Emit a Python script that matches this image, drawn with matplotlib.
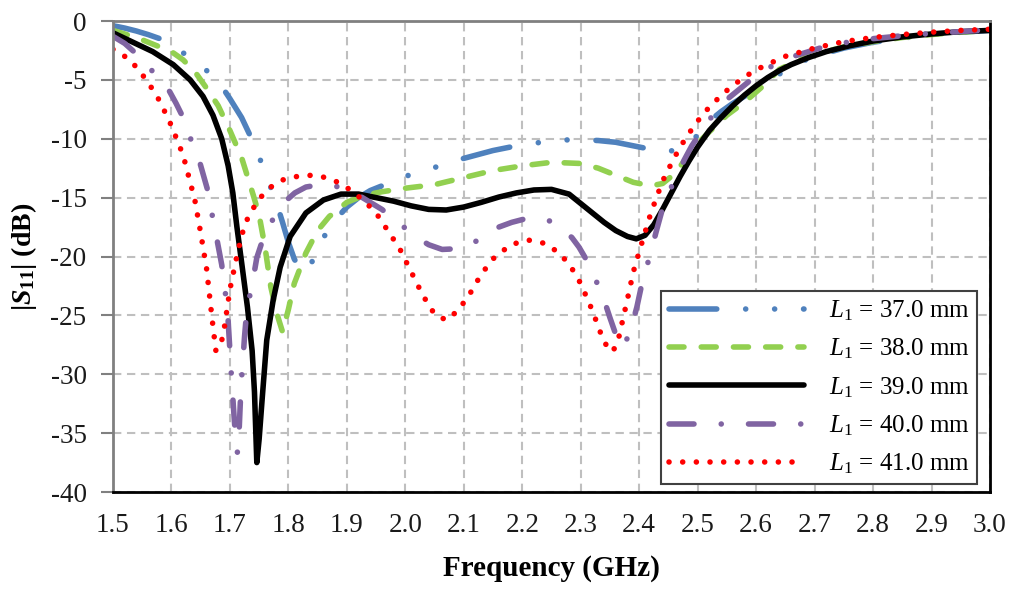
import numpy as np
import matplotlib
matplotlib.use("Agg")
import matplotlib.pyplot as plt

plt.rcParams['font.family'] = ['Liberation Serif', 'DejaVu Serif']
plt.rcParams['mathtext.fontset'] = 'custom'
plt.rcParams['mathtext.rm'] = 'Liberation Serif'
plt.rcParams['mathtext.it'] = 'Liberation Serif:italic'
plt.rcParams['mathtext.bf'] = 'Liberation Serif:bold'
plt.rcParams['mathtext.bfit'] = 'Liberation Serif:bold:italic'
plt.rcParams['axes.unicode_minus'] = False

# L1 = 37.0 mm
f37 = [1.50, 1.52, 1.54, 1.56, 1.58, 1.60, 1.62, 1.64, 1.66, 1.68, 1.70, 1.72, 1.74, 1.76, 1.78,
       1.79, 1.80, 1.81, 1.82, 1.83, 1.84, 1.85, 1.86, 1.87, 1.88, 1.90, 1.92, 1.94, 1.96, 1.98,
       2.00, 2.03, 2.06, 2.09, 2.12, 2.15, 2.18, 2.21, 2.24, 2.27, 2.30, 2.33, 2.36, 2.39, 2.42,
       2.44, 2.46, 2.48, 2.50, 2.52, 2.54, 2.56, 2.58, 2.60, 2.62, 2.64, 2.66, 2.68, 2.70, 2.75,
       2.80, 2.85, 2.90, 2.95, 3.00]
s37 = [-0.4, -0.6, -0.85, -1.15, -1.5, -2.0, -2.7, -3.5, -4.2, -5.1, -6.6, -8.2, -10.3, -12.8, -15.5,
       -17.1, -18.8, -20.2, -21.1, -21.3, -20.5, -19.3, -18.4, -17.6, -16.9, -15.8, -15.0, -14.4, -14.0, -13.6,
       -13.2, -12.7, -12.3, -11.8, -11.4, -11.0, -10.7, -10.45, -10.25, -10.1, -10.1, -10.15, -10.3, -10.6, -10.9,
       -11.1, -11.0, -10.6, -9.7, -8.5, -7.7, -7.0, -6.4, -5.8, -5.1, -4.5, -3.9, -3.4, -3.0, -2.3,
       -1.8, -1.45, -1.15, -0.95, -0.8]

# L1 = 38.0 mm
f38 = [1.50, 1.52, 1.55, 1.57, 1.60, 1.62, 1.64, 1.66, 1.68, 1.70, 1.72, 1.74, 1.75, 1.76, 1.77,
       1.78, 1.79, 1.80, 1.81, 1.83, 1.85, 1.87, 1.90, 1.93, 1.96, 2.00, 2.05, 2.10, 2.15, 2.20,
       2.25, 2.30, 2.33, 2.36, 2.39, 2.42, 2.44, 2.46, 2.48, 2.50, 2.52, 2.55, 2.58, 2.61, 2.64,
       2.67, 2.70, 2.75, 2.80, 2.85, 2.90, 2.95, 3.00]
s38 = [-0.8, -1.1, -1.6, -2.0, -2.6, -3.3, -4.3, -5.7, -7.2, -9.3, -11.6, -14.8, -16.5, -19.2, -22.6,
       -24.8, -26.4, -24.5, -22.3, -19.7, -17.8, -16.6, -15.4, -14.8, -14.5, -14.2, -13.9, -13.3, -12.7, -12.3,
       -12.0, -12.1, -12.5, -13.1, -13.7, -14.0, -13.8, -13.0, -11.7, -10.4, -9.4, -8.0, -6.9, -5.6, -4.1,
       -3.4, -2.85, -2.2, -1.75, -1.4, -1.15, -0.95, -0.8]

# L1 = 39.0 mm
f39 = [1.50, 1.534, 1.568, 1.603, 1.632, 1.654, 1.671, 1.686, 1.697, 1.705, 1.712, 1.72, 1.73, 1.738, 1.742,
       1.746, 1.750, 1.755, 1.763, 1.774, 1.786, 1.803, 1.83, 1.86, 1.89, 1.92, 1.95, 1.98, 2.01, 2.04,
       2.07, 2.10, 2.13, 2.16, 2.19, 2.22, 2.25, 2.28, 2.30, 2.32, 2.34, 2.36, 2.38, 2.395, 2.41,
       2.425, 2.44, 2.455, 2.47, 2.485, 2.50, 2.52, 2.54, 2.56, 2.58, 2.60, 2.62, 2.64, 2.66, 2.69,
       2.72, 2.76, 2.80, 2.85, 2.90, 2.95, 3.00]
s39 = [-1.0, -1.8, -2.6, -3.7, -5.0, -6.4, -8.0, -10.0, -12.3, -14.6, -17.5, -20.5, -24.3, -28.0, -31.5,
       -37.5, -35.5, -32.2, -27.1, -23.7, -20.9, -18.3, -16.3, -15.2, -14.7, -14.7, -15.0, -15.3, -15.7, -16.0,
       -16.05, -15.8, -15.4, -14.95, -14.6, -14.35, -14.3, -14.7, -15.5, -16.3, -17.1, -17.8, -18.3, -18.5, -18.2,
       -17.3, -16.0, -14.6, -13.2, -11.9, -10.7, -9.3, -8.2, -7.2, -6.3, -5.5, -4.8, -4.2, -3.7, -3.1,
       -2.6, -2.1, -1.7, -1.35, -1.1, -0.9, -0.8]

# L1 = 40.0 mm
f40 = [1.50, 1.52, 1.538, 1.555, 1.568, 1.583, 1.597, 1.608, 1.618, 1.632, 1.641, 1.649, 1.661, 1.669, 1.678,
       1.686, 1.692, 1.697, 1.700, 1.703, 1.707, 1.710, 1.713, 1.716, 1.719, 1.722, 1.725, 1.729, 1.738, 1.746,
       1.76, 1.78, 1.795, 1.811, 1.83, 1.854, 1.875, 1.90, 1.92, 1.94, 1.96, 1.98, 2.00, 2.02, 2.04,
       2.063, 2.085, 2.105, 2.125, 2.141, 2.16, 2.182, 2.205, 2.227, 2.248, 2.268, 2.285, 2.297, 2.31, 2.319,
       2.336, 2.35, 2.364, 2.372, 2.384, 2.396, 2.406, 2.418, 2.429, 2.444, 2.458, 2.477, 2.49, 2.506, 2.523,
       2.554, 2.596, 2.62, 2.664, 2.722, 2.78, 2.85, 2.90, 2.95, 3.00]
s40 = [-1.3, -1.9, -2.7, -3.5, -4.3, -5.1, -6.0, -7.0, -8.0, -9.9, -11.0, -12.1, -14.2, -16.3, -18.6,
       -20.7, -23.0, -25.5, -28.0, -30.5, -33.5, -35.6, -36.7, -34.5, -31.0, -29.0, -26.8, -24.5, -22.4, -20.1,
       -18.0, -16.3, -15.3, -14.6, -14.1, -13.9, -13.95, -14.3, -14.8, -15.4, -16.0, -16.8, -17.6, -18.4, -19.0,
       -19.4, -19.35, -19.1, -18.6, -18.0, -17.5, -17.1, -16.8, -16.7, -17.0, -17.6, -18.4, -19.2, -20.3, -21.3,
       -23.1, -25.2, -27.2, -27.7, -26.5, -24.3, -22.0, -20.0, -17.9, -15.2, -13.8, -11.8, -10.6, -9.4, -8.2,
       -6.5, -4.8, -4.0, -3.0, -2.1, -1.6, -1.25, -1.05, -0.9, -0.75]

# L1 = 41.0 mm
f41 = [1.50, 1.52, 1.54, 1.56, 1.58, 1.60, 1.62, 1.64, 1.65, 1.66, 1.67, 1.676, 1.684, 1.69, 1.70,
       1.71, 1.72, 1.73, 1.74, 1.75, 1.77, 1.79, 1.815, 1.84, 1.865, 1.89, 1.91, 1.93, 1.95, 1.97,
       1.99, 2.01, 2.03, 2.05, 2.07, 2.09, 2.11, 2.13, 2.15, 2.18, 2.21, 2.24, 2.26, 2.28, 2.30,
       2.32, 2.34, 2.355, 2.365, 2.38, 2.39, 2.40, 2.42, 2.44, 2.46, 2.48, 2.50, 2.52, 2.545, 2.565,
       2.585, 2.61, 2.65, 2.70, 2.75, 2.80, 2.85, 2.90, 2.95, 3.00]
s41 = [-2.4, -3.0, -3.9, -5.2, -6.8, -8.9, -11.4, -15.2, -18.0, -21.0, -25.5, -28.0, -27.6, -26.2, -22.8,
       -20.4, -18.2, -16.8, -15.9, -15.1, -14.1, -13.5, -13.2, -13.1, -13.3, -13.8, -14.5, -15.3, -16.3, -17.8,
       -19.3, -21.3, -23.3, -24.9, -25.4, -24.6, -23.2, -21.5, -20.2, -19.0, -18.6, -18.9, -19.6, -20.6, -22.3,
       -24.6, -27.3, -28.1, -26.9, -23.6, -21.3, -19.6, -16.3, -13.6, -11.6, -9.9, -8.5, -7.3, -6.1, -5.3,
       -4.6, -3.9, -3.0, -2.3, -1.75, -1.4, -1.15, -0.95, -0.8, -0.7]

labels = [r'$L_1$ = 37.0 mm', r'$L_1$ = 38.0 mm', r'$L_1$ = 39.0 mm',
          r'$L_1$ = 40.0 mm', r'$L_1$ = 41.0 mm']
xticks = np.round(np.arange(1.5, 3.01, 0.1), 1)
yticks = np.arange(-40, 1, 5)

fig = plt.figure(figsize=(10.16, 5.9), dpi=100)
ax = fig.add_axes([0.1112, 0.1661, 0.8632, 0.7983])

lw = 4.0
series = [
    (f37, s37, '#4F81BD', (0, (8.6, 5.2, 0.01, 5.2, 0.01, 5.2))),
    (f38, s38, '#92D050', (0, (2.7, 3.1))),
    (f39, s39, '#000000', '-'),
    (f40, s40, '#8064A2', (0, (4.5, 4.9, 0.01, 4.9))),
    (f41, s41, '#FF0000', (0, (0.01, 2.45))),
]
for (fx, sy, col, ls), lab in zip(series, labels):
    ax.plot(fx, sy, color=col, lw=lw, linestyle=ls, label=lab,
            dash_capstyle='round', solid_capstyle='round', solid_joinstyle='round')

ax.set_xlim(1.5, 3.0)
ax.set_ylim(-40, 0)
ax.set_xticks(xticks)
ax.set_xticklabels([f'{v:.1f}' for v in xticks])
ax.set_yticks(yticks)
ax.set_yticklabels([str(v) for v in yticks])
ax.tick_params(axis='x', length=0, labelsize=19.5, pad=15, colors='#1a1a1a')
ax.tick_params(axis='y', length=9, width=1.5, color='#808080', direction='out',
               labelsize=19.5, pad=10, labelcolor='#1a1a1a')
ax.grid(True, color='#BFBFBF', lw=1.5, linestyle=(0, (4, 2.7)))
ax.set_axisbelow(True)

for side in ['left', 'top']:
    ax.spines[side].set_color('#808080')
    ax.spines[side].set_linewidth(2)
for side in ['bottom', 'right']:
    ax.spines[side].set_color('#000000')
    ax.spines[side].set_linewidth(2)

ax.set_xlabel('Frequency (GHz)', fontsize=21, fontweight='bold', labelpad=12)
ax.set_ylabel(r'$\mathbf{|}\mathbfit{S}_{\mathbf{11}}\mathbf{|}$ (dB)', fontsize=20,
              fontweight='bold', labelpad=8)

leg = ax.legend(loc='lower right', bbox_to_anchor=(0.985, 0.017), borderaxespad=0,
                fontsize=18, handlelength=5.4, handletextpad=1.0, labelspacing=0.55,
                fancybox=False, framealpha=1, edgecolor='#404040', borderpad=0.3)
leg.get_frame().set_linewidth(1.5)

fig.savefig('out.png', dpi=100)
